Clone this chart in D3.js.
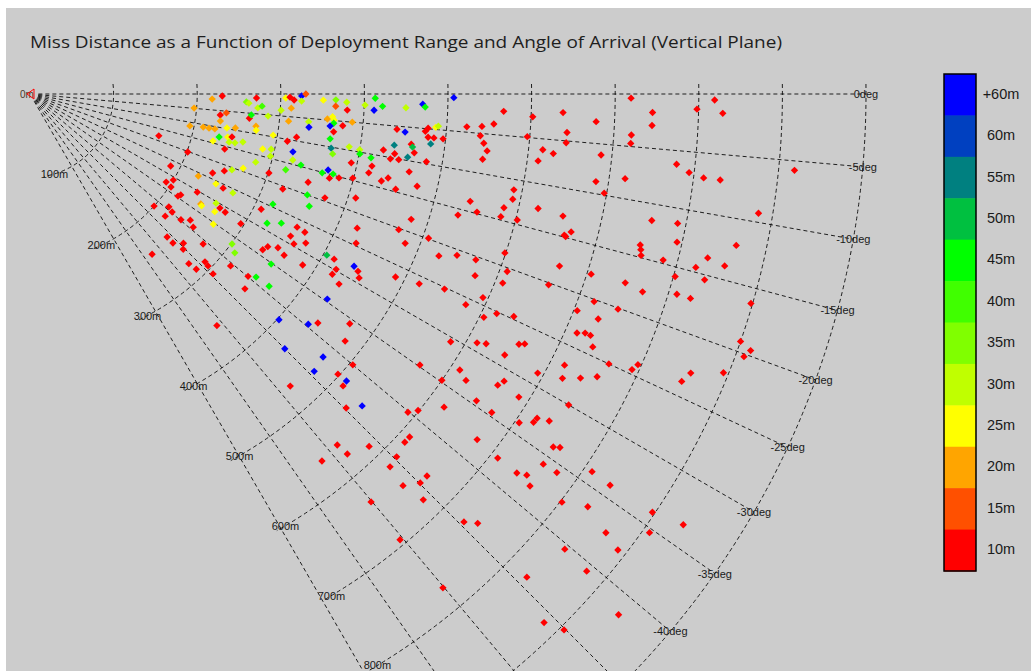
<!DOCTYPE html>
<html>
<head>
<meta charset="utf-8">
<script src="https://cdn.jsdelivr.net/npm/d3@7"></script>
<style>
  html, body { margin: 0; padding: 0; background: #ffffff; }
  svg { display: block; }
</style>
</head>
<body>
<svg id="chart" width="1031" height="671"></svg>
<script>
// ---- data -------------------------------------------------------------
// Deployment range of each shot (m)
const rangeM = [
  218,230,271,259,262,306,311,316,325,330, 325,351,366,379,413,401,422,412,450,470,
  473,507,197,229,236,230,264,266,273,278, 286,301,313,311,366,380,357,363,365,365,
  335,336,361,376,387,366,195,211,218,225, 239,249,273,274,232,226,242,247,245,252,
  261,242,295,313,323,363,366,369,387,400, 401,415,286,296,297,282,322,324,335,319,
  270,258,238,250,224,201,162,189,194,200, 202,215,217,200,214,221,218,235,244,252,
  237,247,256,261,241,278,289,290,296,307, 274,247,257,232,243,245,258,262,265,273,
  269,270,301,310,316,296,309,319,323,338, 323,301,349,353,360,374,362,368,375,372,
  383,399,393,409,416,418,433,440,428,438, 442,448,440,460,462,465,458,463,481,476,
  452,441,451,475,478,487,490,479,486,497, 483,480,470,507,483,526,546,532,548,518,
  489,423,429,357,368,355,363,375,349,338, 335,360,353,385,404,414,422,421,439,446,
  451,434,340,348,367,347,432,719,819,798, 829,745,745,721,721,678,638,644,644,602,
  567,556,542,524,541,546,551,547,597,617, 630,613,687,778,794,812,832,919,685,719,
  697,590,591,542,583,553,582,602,623,654, 661,668,663,759,790,883,794,752,754,756,
  783,864,834,823,856,802,837,810,827,747, 770,705,666,661,609,609,599,569,575,594,
  719,356,402,432,440,471,431,471,479,504, 475,498,511,512,468,545,533,584,568,611,
  600,621,591,599,612,612,558,585,574,561, 617,620,659,659,647,579,605,617,637,704,
  731,749,898,714,723,730,738,612,622,657, 663,648,900,915,910,764,796,792,858,852,
  894,717,693,722,741,758,624,663,659,688, 648,744,671,720,719,734,705,676,755,762,
  709,757,738,749,776,810,760,837,636,676, 729,742,693,770,802,830,897,936,866,908,
  840,890,829,877,940,882,905
];

// Angle of arrival of each shot (deg, below horizontal is negative)
const angleDeg = [
  -1.6,-0.6,-1.0,-2.1,-2.4,-0.9,-0.7,-1.3,-0.4,0.0, -1.5,-1.2,-1.1,-1.5,-0.7,-1.9,-2.0,-2.7,-2.1,-1.5,
  -1.9,-0.5,-4.9,-6.3,-5.5,-8.1,-6.3,-5.4,-3.5,-3.0, -5.3,-3.7,-3.1,-6.0,-2.3,-2.9,-4.8,-4.3,-4.9,-5.5,
  -5.7,-6.8,-6.1,-5.8,-5.0,-7.1,-11.3,-10.8,-10.8,-10.7, -9.8,-9.4,-8.1,-9.1,-12.8,-14.4,-12.3,-12.0,-13.6,-13.4,
  -12.7,-15.8,-9.6,-10.4,-9.2,-8.5,-10.2,-11.2,-9.4,-9.6, -10.3,-10.6,-13.3,-12.9,-14.5,-16.8,-12.4,-14.1,-14.7,-16.5,
  -19.2,-20.6,-23.4,-21.6,-26.0,-20.2,-18.0,-27.1,-32.9,-31.0, -33.4,-34.6,-33.8,-42.1,-39.1,-39.7,-42.1,-39.8,-38.2,-39.2,
  -46.2,-46.2,-44.2,-45.4,-52.7,-46.9,-46.5,-43.8,-44.0,-44.5, -40.9,-25.8,-26.0,-30.4,-32.8,-33.1,-30.4,-32.5,-31.0,-31.2,
  -35.4,-26.0,-36.6,-37.8,-40.6,-31.6,-26.5,-24.4,-28.6,-27.2, -20.6,-18.3,-17.6,-20.0,-21.9,-19.4,-15.1,-14.3,-14.8,-15.7,
  -15.2,-14.6,-12.1,-17.7,-13.1,-11.9,-13.9,-13.2,-9.0,-10.2, -9.3,-10.1,-8.0,-7.5,-7.9,-8.7,-9.5,-11.6,-9.7,-13.4,
  -14.6,-5.5,-5.8,-5.4,-4.9,-4.7,-4.5,-6.2,-6.2,-6.2, -7.1,-18.2,-20.2,-19.9,-21.7,-21.6,-20.7,-15.8,-25.2,-26.0,
  -26.6,-22.3,-24.6,-26.5,-26.7,-28.6,-29.6,-28.4,-31.8,-32.7, -33.8,-32.4,-35.2,-32.1,-28.5,-28.5,-29.8,-30.8,-28.0,-28.4,
  -29.2,-31.6,-39.9,-39.0,-38.8,-42.2,-34.6,-0.4,-0.5,-1.3, -1.6,-1.7,-2.9,-3.9,-4.7,-2.8,-2.0,-4.1,-5.2,-2.6,
  -2.1,-3.7,-4.1,-4.3,-5.3,-6.2,-7.1,-8.2,-4.9,-6.2, -6.5,-7.5,-6.1,-6.2,-6.8,-7.1,-7.1,-5.7,-8.8,-8.1,
  -9.8,-11.2,-12.3,-13.7,-13.5,-14.8,-14.6,-14.5,-12.7,-12.9, -14.8,-14.3,-14.9,-11.5,-11.3,-9.3,-12.9,-13.9,-14.3,-14.8,
  -14.7,-12.1,-13.6,-14.6,-13.9,-15.8,-15.4,-17.2,-17.2,-17.6, -17.9,-17.8,-18.0,-20.2,-20.4,-21.8,-18.5,-20.4,-22.2,-24.2,
  -20.2,-51.1,-42.2,-39.6,-38.5,-35.7,-45.0,-41.9,-38.1,-40.0, -44.3,-42.3,-42.2,-43.0,-48.3,-43.2,-44.8,-30.5,-34.8,-32.7,
  -34.8,-37.1,-40.1,-39.2,-42.1,-42.9,-48.8,-46.1,-48.6,-51.5, -44.7,-46.0,-43.9,-44.9,-46.4,-25.8,-26.2,-25.2,-24.7,-21.6,
  -21.6,-20.1,-16.2,-23.6,-23.3,-23.3,-24.2,-29.1,-28.7,-27.1, -26.8,-28.8,-19.2,-19.6,-20.2,-25.0,-24.0,-24.6,-22.9,-23.8,
  -21.9,-26.9,-28.8,-28.1,-27.3,-26.5,-33.3,-31.2,-31.9,-31.8, -34.5,-30.0,-34.6,-32.6,-33.1,-32.2,-33.9,-37.7,-34.0,-33.7,
  -37.9,-35.8,-37.9,-37.5,-35.7,-33.9,-38.1,-34.0,-50.1,-45.9, -44.6,-43.8,-50.3,-50.1,-37.5,-36.5,-33.9,-33.4,-37.3,-35.3,
  -40.4,-37.8,-44.2,-40.6,-41.5,-45.8,-45.1
];

// Miss distance of each shot (m)
const missM = [
  18,8,8,33,28,23,8,8,70,13, 28,23,33,28,43,28,43,70,28,70,
  43,70,18,8,13,18,8,43,28,38, 28,28,18,18,13,8,18,23,23,43,
  28,70,70,8,18,8,18,18,18,18, 23,18,18,23,43,23,23,8,28,28,
  28,8,23,8,8,43,53,33,28,28, 43,43,23,28,28,28,70,28,43,38,
  23,28,8,8,18,8,8,8,8,8, 8,8,8,8,8,8,8,8,8,8,
  8,8,8,8,8,8,8,8,8,8, 8,23,8,8,18,23,28,23,8,8,
  23,28,33,33,8,8,8,43,43,43, 8,8,8,43,43,8,43,70,43,8,
  8,8,8,8,8,8,8,8,8,8, 8,8,53,8,48,8,53,8,8,8,
  8,8,70,8,8,23,28,8,8,8, 53,8,8,8,8,8,8,8,8,8,
  8,8,8,8,8,8,8,8,8,8, 8,8,43,8,48,8,8,8,70,8,
  8,8,8,43,43,8,70,8,8,8, 8,8,8,8,8,8,8,8,8,8,
  8,8,8,8,8,8,8,8,8,8, 8,8,8,8,8,8,8,8,8,8,
  8,8,8,8,8,8,8,8,8,8, 8,8,8,8,8,8,8,8,8,8,
  8,8,8,8,8,8,8,8,8,8, 8,8,8,8,8,8,8,8,8,8,
  8,8,70,70,8,8,70,70,8,8, 70,8,70,8,8,70,8,8,8,8,
  8,8,8,8,8,8,8,8,8,8, 8,8,8,8,8,8,8,8,8,8,
  8,8,8,8,8,8,8,8,8,8, 8,8,8,8,8,8,8,8,8,8,
  8,8,8,8,8,8,8,8,8,8, 8,8,8,8,8,8,8,8,8,8,
  8,8,8,8,8,8,8,8,8,8, 8,8,8,8,8,8,8,8,8,8,
  8,8,8,8,8,8,8
];

// Grid: range rings (m) and arrival-angle rays (deg)
const rangeTicks = [100, 200, 300, 400, 500, 600, 700, 800, 900, 1000];
const angleTicks = [0, -5, -10, -15, -20, -25, -30, -35, -40, -45, -50, -55, -60];

// Colour key, top to bottom
const legendLabels = ["+60m", "60m", "55m", "50m", "45m", "40m", "35m", "30m", "25m", "20m", "15m", "10m"];
const legendColors = ["#0000ff", "#0040c0", "#008080", "#00c040", "#00ff00", "#40ff00",
                      "#80ff00", "#c0ff00", "#ffff00", "#ffa500", "#ff5000", "#ff0000"];
const missBreaks = [10, 15, 20, 25, 30, 35, 40, 45, 50, 55, 60];

const title = "Miss Distance as a Function of Deployment Range and Angle of Arrival (Vertical Plane)";

// ---- layout ------------------------------------------------------------
const W = 1031, H = 671;
const svg = d3.select("#chart");

svg.append("rect")
  .attr("x", 6).attr("y", 8)
  .attr("width", W - 6).attr("height", H - 8)
  .attr("fill", "#cccccc");

svg.append("text")
  .attr("x", 30).attr("y", 48)
  .attr("font-family", "'Open Sans', 'Noto Sans', sans-serif")
  .attr("font-size", 16)
  .attr("fill", "#1e1e1e")
  .attr("textLength", 752)
  .attr("lengthAdjust", "spacingAndGlyphs")
  .text(title);

// polar frame: origin at the launch point, angles measured downward from horizontal
const origin = { x: 30, y: 94 };
const rScale = d3.scaleLinear().domain([0, 1000]).range([0, 836]);
const aScale = d3.scaleLinear().domain([0, -90]).range([0, Math.PI / 2]);
const polar = (m, deg) => [
  origin.x + rScale(m) * Math.cos(aScale(deg)),
  origin.y + rScale(m) * Math.sin(aScale(deg))
];

// rings stop where they meet a slanted guide line to the left of the origin
const slant = 56.7 * Math.PI / 180;
function meetGuide(radPx, offsetPx) {
  const ux = Math.cos(slant), uy = Math.sin(slant);
  const b = offsetPx * ux;
  const t = -b + Math.sqrt(b * b - offsetPx * offsetPx + radPx * radPx);
  return [offsetPx + t * ux, t * uy];
}

const grid = svg.append("g")
  .attr("fill", "none")
  .attr("stroke", "#000")
  .attr("stroke-width", 1)
  .attr("stroke-dasharray", "4,3")
  .attr("stroke-opacity", 0.85);

// rays
grid.selectAll("line.ray")
  .data(angleTicks)
  .join("line")
  .attr("class", "ray")
  .attr("x1", d => polar(10, d)[0])
  .attr("y1", d => polar(10, d)[1])
  .attr("x2", d => polar(1000, d)[0])
  .attr("y2", d => polar(1000, d)[1]);

// rings
grid.selectAll("path.ring")
  .data(rangeTicks)
  .join("path")
  .attr("class", "ring")
  .attr("d", m => {
    const rad = rScale(m);
    const a0 = -Math.asin(Math.min(1, 10 / rad));
    const end = meetGuide(rad, -40);
    const a1 = Math.atan2(end[1], end[0]);
    const p = d3.path();
    p.moveTo(origin.x + rad * Math.cos(a0), origin.y + rad * Math.sin(a0));
    p.arc(origin.x, origin.y, rad, a0, a1);
    return p.toString();
  });

const labelFont = "'Liberation Sans', Arial, sans-serif";

// angle labels at the outer end of each ray
svg.append("g")
  .selectAll("text")
  .data(angleTicks.filter(d => polar(1000, d)[1] < H - 6))
  .join("text")
  .attr("x", d => polar(1000, d)[0])
  .attr("y", d => polar(1000, d)[1])
  .attr("text-anchor", "middle")
  .attr("dominant-baseline", "central")
  .attr("font-family", labelFont)
  .attr("font-size", 11)
  .attr("fill", "#1a1a1a")
  .text(d => `${d}deg`);

// range labels near the lower end of each ring
svg.append("g")
  .selectAll("text")
  .data(rangeTicks.map(m => {
    const p = meetGuide(rScale(m), -28);
    return { m, x: origin.x + p[0], y: origin.y + p[1] };
  }).filter(d => d.y < H - 2))
  .join("text")
  .attr("x", d => d.x)
  .attr("y", d => d.y)
  .attr("text-anchor", "middle")
  .attr("dominant-baseline", "central")
  .attr("font-family", labelFont)
  .attr("font-size", 11)
  .attr("fill", "#1a1a1a")
  .text(d => `${d.m}m`);

// origin marker and label
svg.append("text")
  .attr("x", origin.x - 3).attr("y", origin.y)
  .attr("text-anchor", "middle")
  .attr("dominant-baseline", "central")
  .attr("font-family", labelFont)
  .attr("font-size", 10)
  .attr("fill", "#4a3a2a")
  .text("0m");
svg.append("path")
  .attr("d", d3.line()([
    [origin.x - 3, origin.y], [origin.x + 4, origin.y - 5], [origin.x + 4, origin.y + 5]
  ]) + "Z")
  .attr("fill", "none")
  .attr("stroke", "#ff0000")
  .attr("stroke-width", 1);

// ---- shots -------------------------------------------------------------
const color = d3.scaleThreshold()
  .domain(missBreaks)
  .range(legendColors.slice().reverse());

const diamond = {
  draw(ctx, size) {
    const s = Math.sqrt(size) / 2;
    ctx.moveTo(0, -s);
    ctx.lineTo(s, 0);
    ctx.lineTo(0, s);
    ctx.lineTo(-s, 0);
    ctx.closePath();
  }
};
const marker = d3.symbol().type(diamond).size(54);

const shots = rangeM.map((m, i) => ({ m, deg: angleDeg[i], miss: missM[i] }));
svg.append("g")
  .selectAll("path")
  .data(shots)
  .join("path")
  .attr("d", marker)
  .attr("transform", d => `translate(${polar(d.m, d.deg)[0]},${polar(d.m, d.deg)[1]})`)
  .attr("fill", d => color(d.miss));

// ---- colour key --------------------------------------------------------
const keyX = 944, keyW = 32;
const keyBand = d3.scaleBand().domain(legendLabels).range([74, 571]);
const key = svg.append("g");
key.selectAll("rect.cell")
  .data(legendLabels)
  .join("rect")
  .attr("class", "cell")
  .attr("x", keyX)
  .attr("y", d => keyBand(d))
  .attr("width", keyW)
  .attr("height", keyBand.bandwidth() + 0.5)
  .attr("fill", (d, i) => legendColors[i]);
key.append("rect")
  .attr("x", keyX).attr("y", 74)
  .attr("width", keyW).attr("height", 571 - 74)
  .attr("fill", "none")
  .attr("stroke", "#000")
  .attr("stroke-width", 1.5);
key.selectAll("text")
  .data(legendLabels)
  .join("text")
  .attr("x", 1001)
  .attr("y", d => keyBand(d) + keyBand.bandwidth() / 2 - 1)
  .attr("text-anchor", "middle")
  .attr("dominant-baseline", "central")
  .attr("font-family", labelFont)
  .attr("font-size", 14.5)
  .attr("fill", "#1a1a1a")
  .text(d => d);
</script>
</body>
</html>
